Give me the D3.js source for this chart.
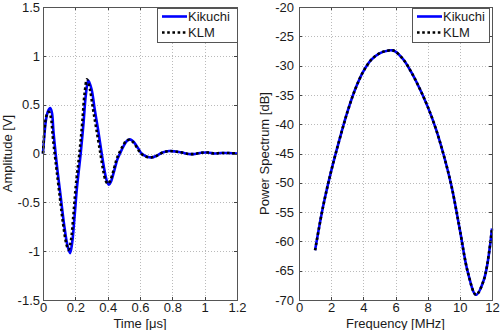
<!DOCTYPE html>
<html>
<head>
<meta charset="utf-8">
<script src="https://cdn.jsdelivr.net/npm/d3@7"></script>
<style>
  html, body { margin: 0; padding: 0; background: #fff; }
  svg { display: block; font-family: "Liberation Sans", Arial, Helvetica, sans-serif; }
</style>
</head>
<body>
<svg id="chart" width="500" height="330"></svg>
<script>
// ---------- Data ----------
const seriesNames = ["Kikuchi", "KLM"];

// Time-domain signal (µs, V)
const timeKikuchi = [0, 0.010, 0.020, 0.030, 0.045, 0.055, 0.065, 0.078, 0.090, 0.110, 0.130, 0.150, 0.167, 0.180, 0.195, 0.210, 0.233, 0.250, 0.265, 0.280, 0.300, 0.320, 0.340, 0.363, 0.380, 0.395, 0.408, 0.420, 0.440, 0.460, 0.476, 0.500, 0.520, 0.538, 0.560, 0.590, 0.610, 0.640, 0.672, 0.700, 0.740, 0.780, 0.820, 0.860, 0.900, 0.940, 0.980, 1.020, 1.060, 1.100, 1.150, 1.200];
const ampKikuchi  = [0, 0.22, 0.36, 0.43, 0.465, 0.42, 0.22, 0.00, -0.18, -0.45, -0.72, -0.93, -1.02, -0.92, -0.65, -0.35, 0.00, 0.30, 0.60, 0.747, 0.66, 0.45, 0.25, 0.00, -0.17, -0.28, -0.32, -0.29, -0.18, -0.06, 0.00, 0.08, 0.13, 0.145, 0.12, 0.05, 0.00, -0.03, -0.04, -0.025, 0.01, 0.025, 0.02, 0.01, -0.005, -0.005, 0.008, 0.01, 0.0, 0.005, 0.005, 0.0];

const timeKLM = [0, 0.010, 0.020, 0.030, 0.038, 0.050, 0.060, 0.072, 0.085, 0.105, 0.125, 0.145, 0.158, 0.172, 0.188, 0.203, 0.225, 0.242, 0.257, 0.272, 0.290, 0.310, 0.330, 0.355, 0.372, 0.388, 0.402, 0.415, 0.435, 0.455, 0.470, 0.495, 0.515, 0.533, 0.555, 0.585, 0.605, 0.635, 0.668, 0.700, 0.740, 0.780, 0.820, 0.860, 0.900, 0.940, 0.980, 1.020, 1.060, 1.100, 1.150, 1.200];
const ampKLM  = [0, 0.26, 0.38, 0.42, 0.425, 0.36, 0.18, 0.00, -0.18, -0.46, -0.73, -0.93, -0.985, -0.90, -0.63, -0.33, 0.00, 0.30, 0.61, 0.76, 0.66, 0.45, 0.25, 0.00, -0.17, -0.28, -0.31, -0.28, -0.18, -0.06, 0.00, 0.08, 0.13, 0.14, 0.12, 0.05, 0.00, -0.03, -0.04, -0.025, 0.01, 0.025, 0.02, 0.01, -0.005, -0.005, 0.008, 0.01, 0.0, 0.005, 0.005, 0.0];

// Power spectrum (MHz, dB)
const freq        = [1.0, 1.5, 2.0, 2.5, 3.0, 3.5, 4.0, 4.5, 5.0, 5.5, 5.8, 6.0, 6.5, 7.0, 7.5, 8.0, 8.5, 9.0, 9.5, 10.0, 10.5, 11.0, 11.5, 12.0];
const psdKikuchi  = [-61.5, -54.0, -48.0, -42.8, -38.0, -34.0, -31.0, -29.0, -27.9, -27.45, -27.4, -27.6, -29.0, -31.2, -33.9, -37.0, -40.7, -45.3, -50.8, -58.0, -65.3, -69.1, -66.5, -57.8];
const psdKLM      = [-61.5, -54.0, -48.0, -42.8, -38.0, -34.0, -31.0, -29.0, -27.9, -27.45, -27.4, -27.6, -29.0, -31.2, -33.9, -37.0, -40.7, -45.3, -50.8, -58.0, -65.3, -69.1, -66.5, -57.8];

// Tick labels
const timeTicks = [0, 0.2, 0.4, 0.6, 0.8, 1, 1.2];
const ampTicks  = [-1.5, -1, -0.5, 0, 0.5, 1, 1.5];
const freqTicks = [0, 2, 4, 6, 8, 10, 12];
const dbTicks   = [-70, -65, -60, -55, -50, -45, -40, -35, -30, -25, -20];

// ---------- Drawing ----------
const svg = d3.select("#chart");
const FONT = 13;
const TEXT = "#1a1a1a";
const BLUE = "#0000ff";

function panel(opts) {
  const { x, y, xt, yt, xlabel, ylabel, series, yPad, ylabelX, legend } = opts;
  const [x0, x1] = x.range();
  const [y0, y1] = y.range(); // y0 bottom, y1 top
  const g = svg.append("g");

  // grid
  const grid = g.append("g")
    .attr("stroke", "#a8a8a8").attr("stroke-width", 0.8)
    .attr("stroke-dasharray", "1,2").attr("fill", "none");
  xt.forEach(v => {
    const px = Math.round(x(v)) + 0.5;
    if (Math.abs(px - x0) > 1 && Math.abs(px - x1) > 1)
      grid.append("line").attr("x1", px).attr("x2", px).attr("y1", y1).attr("y2", y0);
  });
  yt.forEach(v => {
    const py = Math.round(y(v)) + 0.5;
    if (Math.abs(py - y0) > 1 && Math.abs(py - y1) > 1)
      grid.append("line").attr("x1", x0).attr("x2", x1).attr("y1", py).attr("y2", py);
  });

  // series
  series.forEach(s => {
    const pts = s.xs.map((d, i) => [d, s.ys[i]]);
    const line = d3.line().x(d => x(d[0])).y(d => y(d[1])).curve(d3.curveCatmullRom.alpha(0.5));
    g.append("path").attr("d", line(pts))
      .attr("fill", "none").attr("stroke", s.color).attr("stroke-width", s.width)
      .attr("stroke-dasharray", s.dash || null).attr("stroke-linejoin", "round");
  });

  // axes
  const xAxis = g.append("g").attr("transform", `translate(0,${y0})`)
    .call(d3.axisBottom(x).tickValues(xt).tickSize(0).tickPadding(3).tickFormat(d => String(d)));
  const yAxis = g.append("g").attr("transform", `translate(${x0},0)`)
    .call(d3.axisLeft(y).tickValues(yt).tickSize(0).tickPadding(yPad).tickFormat(d => String(d)));
  [xAxis, yAxis].forEach(a => {
    a.select(".domain").remove();
    a.selectAll("text").attr("font-size", FONT).attr("fill", TEXT)
      .attr("font-family", "'Liberation Sans', Arial, sans-serif");
  });

  // inward ticks
  const tk = g.append("g").attr("stroke", "#444").attr("stroke-width", 1);
  xt.forEach(v => {
    const px = Math.round(x(v)) + 0.5;
    tk.append("line").attr("x1", px).attr("x2", px).attr("y1", y0).attr("y2", y0 - 3);
    tk.append("line").attr("x1", px).attr("x2", px).attr("y1", y1).attr("y2", y1 + 3);
  });
  yt.forEach(v => {
    const py = Math.round(y(v)) + 0.5;
    tk.append("line").attr("x1", x0).attr("x2", x0 + 3).attr("y1", py).attr("y2", py);
    tk.append("line").attr("x1", x1).attr("x2", x1 - 3).attr("y1", py).attr("y2", py);
  });

  // box
  g.append("rect")
    .attr("x", Math.round(x0) + 0.5).attr("y", Math.round(y1) + 0.5)
    .attr("width", Math.round(x1) - Math.round(x0)).attr("height", Math.round(y0) - Math.round(y1))
    .attr("fill", "none").attr("stroke", "#555").attr("stroke-width", 1);

  // labels
  g.append("text").attr("x", (x0 + x1) / 2).attr("y", 327.5)
    .attr("text-anchor", "middle").attr("font-size", FONT).attr("fill", TEXT).text(xlabel);
  g.append("text").attr("transform", `translate(${ylabelX},${(y0 + y1) / 2}) rotate(-90)`)
    .attr("text-anchor", "middle").attr("font-size", FONT).attr("fill", TEXT).text(ylabel);

  // legend
  const lg = g.append("g");
  lg.append("rect").attr("x", legend.x + 0.5).attr("y", legend.y + 0.5)
    .attr("width", legend.w).attr("height", legend.h)
    .attr("fill", "#fff").attr("stroke", "#555").attr("stroke-width", 1);
  series.forEach((s, i) => {
    const ry = legend.y + 8.5 + i * 16;
    lg.append("line").attr("x1", legend.x + 5).attr("x2", legend.x + 30)
      .attr("y1", ry).attr("y2", ry)
      .attr("stroke", s.color).attr("stroke-width", s.width).attr("stroke-dasharray", s.dash || null);
    lg.append("text").attr("x", legend.x + 31).attr("y", ry + 4.6)
      .attr("font-size", FONT).attr("fill", TEXT).text(s.name);
  });
}

const xL = d3.scaleLinear().domain([0, 1.2]).range([43, 237]);
const yL = d3.scaleLinear().domain([-1.5, 1.5]).range([300, 7]);
panel({
  x: xL, y: yL, xt: timeTicks, yt: ampTicks,
  xlabel: "Time [\u03bcs]", ylabel: "Amplitude [V]", yPad: 3, ylabelX: 12,
  legend: { x: 157, y: 8, w: 80, h: 34 },
  series: [
    { name: seriesNames[0], xs: timeKikuchi, ys: ampKikuchi, color: BLUE, width: 2.6 },
    { name: seriesNames[1], xs: timeKLM, ys: ampKLM, color: "#000", width: 2.6, dash: "2.6,2.6" }
  ]
});

const xR = d3.scaleLinear().domain([0, 12]).range([299, 492]);
const yR = d3.scaleLinear().domain([-70, -20]).range([300, 7]);
panel({
  x: xR, y: yR, xt: freqTicks, yt: dbTicks,
  xlabel: "Frequency [MHz]", ylabel: "Power Spectrum [dB]", yPad: 5, ylabelX: 269,
  legend: { x: 412, y: 8, w: 77, h: 34 },
  series: [
    { name: seriesNames[0], xs: freq, ys: psdKikuchi, color: BLUE, width: 2.6 },
    { name: seriesNames[1], xs: freq, ys: psdKLM, color: "#000", width: 2.6, dash: "2.6,2.6" }
  ]
});
</script>
</body>
</html>
